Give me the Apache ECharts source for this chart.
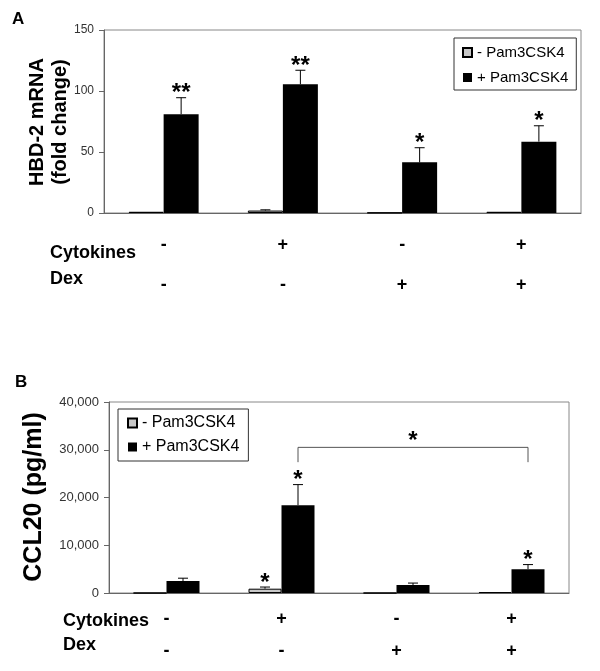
<!DOCTYPE html>
<html>
<head>
<meta charset="utf-8">
<script src="https://cdn.jsdelivr.net/npm/echarts@6/dist/echarts.min.js"></script>
<style>
    body, html { margin: 0; width: 100%; height: 100%; background: #fff; }
    #chart { width: 600px; height: 671px; }
</style>
</head>
<body>
<div id="chart"></div>
<script>
// treatment rows under the bars
var cytokines = ['-', '+', '-', '+'];
var dex = ['-', '-', '+', '+'];

// panel A: HBD-2 mRNA (fold change)
var hbdMinus = [1, 2, 0.3, 1];
var hbdMinusErr = [0, 0.6, 0, 0];
var hbdPlus = [81, 105.5, 41.5, 58.5];
var hbdPlusErr = [13.5, 11.5, 12, 13];
var hbdMinusStars = ['', '', '', ''];
var hbdPlusStars = ['**', '**', '*', '*'];

// panel B: CCL20 (pg/ml)
var cclMinus = [0, 900, 0, 200];
var cclMinusErr = [0, 350, 0, 0];
var cclPlus = [2500, 18400, 1650, 5000];
var cclPlusErr = [600, 4300, 430, 950];
var cclMinusStars = ['', '*', '', ''];
var cclPlusStars = ['', '*', '', '*'];
// significance bracket between + Pam3CSK4 of group 2 and group 4
var bracketFrom = 1, bracketTo = 3, bracketTop = 30500, bracketLeg = 27400, bracketStar = '*';

var FONT = '"Liberation Sans", Arial, sans-serif';
var chart = echarts.init(document.getElementById('chart'));

function toPairs(arr) {
    return arr.map(function (v, i) { return [i, v]; });
}

// error bar (upper half only) + significance stars
function errRender(errs, stars, side, half) {
    return function (params, api) {
        var i = params.dataIndex;
        var v = api.value(1);
        var base = api.coord([api.value(0), v]);
        var top = api.coord([api.value(0), v + errs[i]]);
        var x = base[0] + side * half;
        var kids = [];
        if (errs[i] > 0) {
            kids.push({type: 'line', shape: {x1: x, y1: base[1], x2: x, y2: top[1]}, style: {stroke: '#000', lineWidth: 1}});
            kids.push({type: 'line', shape: {x1: x - 5, y1: top[1], x2: x + 5, y2: top[1]}, style: {stroke: '#000', lineWidth: 1}});
        }
        if (stars[i]) {
            kids.push({type: 'text', x: x, y: top[1] - 4, style: {text: stars[i], fontSize: 24, fontWeight: 'bold', fontFamily: FONT, fill: '#000', align: 'center', verticalAlign: 'middle'}});
        }
        return {type: 'group', children: kids};
    };
}

function bracketRender(half) {
    return function (params, api) {
        var a = api.coord([bracketFrom, bracketLeg]);
        var b = api.coord([bracketFrom, bracketTop]);
        var c = api.coord([bracketTo, bracketTop]);
        var d = api.coord([bracketTo, bracketLeg]);
        var pts = [[a[0] + half, a[1]], [b[0] + half, b[1]], [c[0] + half, c[1]], [d[0] + half, d[1]]];
        return {
            type: 'group', children: [
                {type: 'polyline', shape: {points: pts}, style: {stroke: '#555', lineWidth: 1, fill: null}},
                {type: 'text', x: (pts[1][0] + pts[2][0]) / 2, y: b[1] - 6, style: {text: bracketStar, fontSize: 24, fontWeight: 'bold', fontFamily: FONT, fill: '#000', align: 'center', verticalAlign: 'middle'}}
            ]
        };
    };
}

function signLabel(value, idx) {
    return '{s|' + cytokines[idx] + '}\n{s|' + dex[idx] + '}';
}

var greyStyle = {color: '#c8c8c8', borderColor: '#000', borderWidth: 1};
var blackStyle = {color: '#000'};

var option = {
    animation: false,
    grid: [
        {left: 104, top: 30, width: 477, height: 183, show: true, borderColor: '#888', borderWidth: 1},
        {left: 109, top: 402, width: 460, height: 191, show: true, borderColor: '#888', borderWidth: 1}
    ],
    xAxis: [
        {
            gridIndex: 0, type: 'category', data: ['0', '1', '2', '3'],
            axisLine: {lineStyle: {color: '#666'}}, axisTick: {show: false},
            axisLabel: {margin: 12, formatter: signLabel, rich: {s: {fontSize: 18, fontWeight: 'bold', fontFamily: FONT, color: '#000', lineHeight: 40}}}
        },
        {
            gridIndex: 1, type: 'category', data: ['0', '1', '2', '3'],
            axisLine: {lineStyle: {color: '#666'}}, axisTick: {show: false},
            axisLabel: {margin: 10, formatter: signLabel, rich: {s: {fontSize: 18, fontWeight: 'bold', fontFamily: FONT, color: '#000', lineHeight: 32}}}
        }
    ],
    yAxis: [
        {
            gridIndex: 0, type: 'value', min: 0, max: 150, interval: 50,
            axisLine: {show: true, lineStyle: {color: '#666'}},
            axisTick: {show: true, length: 5, lineStyle: {color: '#666'}},
            axisLabel: {margin: 10, fontSize: 12, fontFamily: FONT, color: '#333'},
            splitLine: {show: false}
        },
        {
            gridIndex: 1, type: 'value', min: 0, max: 40000, interval: 10000,
            axisLine: {show: true, lineStyle: {color: '#666'}},
            axisTick: {show: true, length: 5, lineStyle: {color: '#666'}},
            axisLabel: {margin: 10, fontSize: 13, fontFamily: FONT, color: '#333',
                formatter: function (v) { return v.toLocaleString('en-US'); }},
            splitLine: {show: false}
        }
    ],
    legend: [
        {
            orient: 'vertical', left: 454, top: 38, padding: [7, 8, 5, 8], itemGap: 10,
            itemWidth: 9, itemHeight: 9, icon: 'rect', borderColor: '#333', borderWidth: 1,
            textStyle: {fontSize: 15, fontFamily: FONT, color: '#000'},
            data: ['- Pam3CSK4', '+ Pam3CSK4']
        },
        {
            orient: 'vertical', left: 118, top: 409, padding: [6, 9, 6, 9], itemGap: 8,
            itemWidth: 9, itemHeight: 9, icon: 'rect', borderColor: '#333', borderWidth: 1,
            textStyle: {fontSize: 16, fontFamily: FONT, color: '#000'},
            data: ['- Pam3CSK4', '+ Pam3CSK4']
        }
    ],
    series: [
        {name: '- Pam3CSK4', type: 'bar', xAxisIndex: 0, yAxisIndex: 0, barWidth: 35, barGap: '0%', itemStyle: greyStyle, data: hbdMinus},
        {name: '+ Pam3CSK4', type: 'bar', xAxisIndex: 0, yAxisIndex: 0, barWidth: 35, barGap: '0%', itemStyle: blackStyle, data: hbdPlus},
        {type: 'custom', xAxisIndex: 0, yAxisIndex: 0, z: 5, renderItem: errRender(hbdMinusErr, hbdMinusStars, -1, 17.5), data: toPairs(hbdMinus)},
        {type: 'custom', xAxisIndex: 0, yAxisIndex: 0, z: 5, renderItem: errRender(hbdPlusErr, hbdPlusStars, 1, 17.5), data: toPairs(hbdPlus)},

        {name: '- Pam3CSK4', type: 'bar', xAxisIndex: 1, yAxisIndex: 1, barWidth: 33, barGap: '0%', itemStyle: greyStyle, data: cclMinus},
        {name: '+ Pam3CSK4', type: 'bar', xAxisIndex: 1, yAxisIndex: 1, barWidth: 33, barGap: '0%', itemStyle: blackStyle, data: cclPlus},
        {type: 'custom', xAxisIndex: 1, yAxisIndex: 1, z: 5, renderItem: errRender(cclMinusErr, cclMinusStars, -1, 16.5), data: toPairs(cclMinus)},
        {type: 'custom', xAxisIndex: 1, yAxisIndex: 1, z: 5, renderItem: errRender(cclPlusErr, cclPlusStars, 1, 16.5), data: toPairs(cclPlus)},
        {type: 'custom', xAxisIndex: 1, yAxisIndex: 1, z: 5, renderItem: bracketRender(16.5), data: [[bracketFrom, bracketTop]]}
    ],
    graphic: [
        {type: 'text', left: 12, top: 11, style: {text: 'A', fontSize: 17, fontWeight: 'bold', fontFamily: FONT, fill: '#000'}},
        {type: 'text', left: 15, top: 374, style: {text: 'B', fontSize: 17, fontWeight: 'bold', fontFamily: FONT, fill: '#000'}},
        {type: 'text', x: 37, y: 122, rotation: Math.PI / 2, style: {text: 'HBD-2 mRNA', fontSize: 20, fontWeight: 'bold', fontFamily: FONT, fill: '#000', align: 'center', verticalAlign: 'middle'}},
        {type: 'text', x: 60, y: 122, rotation: Math.PI / 2, style: {text: '(fold change)', fontSize: 20, fontWeight: 'bold', fontFamily: FONT, fill: '#000', align: 'center', verticalAlign: 'middle'}},
        {type: 'text', x: 34, y: 497, rotation: Math.PI / 2, style: {text: 'CCL20 (pg/ml)', fontSize: 25, fontWeight: 'bold', fontFamily: FONT, fill: '#000', align: 'center', verticalAlign: 'middle'}},
        {type: 'text', x: 50, y: 253, style: {text: 'Cytokines', fontSize: 18, fontWeight: 'bold', fontFamily: FONT, fill: '#000', verticalAlign: 'middle'}},
        {type: 'text', x: 50, y: 279, style: {text: 'Dex', fontSize: 18, fontWeight: 'bold', fontFamily: FONT, fill: '#000', verticalAlign: 'middle'}},
        {type: 'text', x: 63, y: 621, style: {text: 'Cytokines', fontSize: 18, fontWeight: 'bold', fontFamily: FONT, fill: '#000', verticalAlign: 'middle'}},
        {type: 'text', x: 63, y: 645, style: {text: 'Dex', fontSize: 18, fontWeight: 'bold', fontFamily: FONT, fill: '#000', verticalAlign: 'middle'}}
    ]
};
chart.setOption(option);
</script>
</body>
</html>
